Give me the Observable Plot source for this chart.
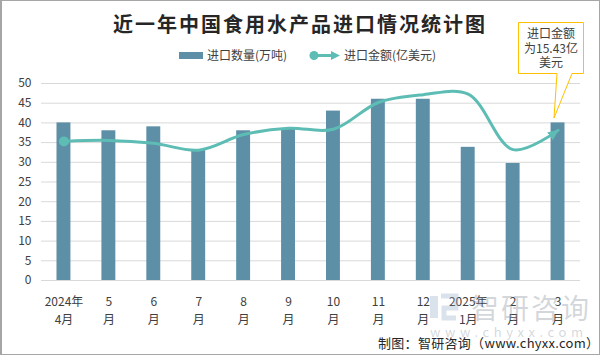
<!DOCTYPE html>
<html><head><meta charset="utf-8">
<script src="https://cdn.jsdelivr.net/npm/d3@7"></script>
<script src="https://cdn.jsdelivr.net/npm/@observablehq/plot@0.6"></script>
<style>
body{margin:0;background:#fff;}
#wrap{position:relative;width:600px;height:356px;overflow:hidden;background:#fff;font-family:"Noto Sans CJK SC","Microsoft YaHei",sans-serif;color:#404040;}
#chart{position:absolute;left:0;top:0;}
.abs{position:absolute;white-space:nowrap;}
#title{left:0;width:600px;top:9px;text-align:center;font-size:20px;font-weight:bold;color:#262626;letter-spacing:2px;font-family:"Noto Sans CJK SC",serif;}
.leg{font-size:12px;line-height:14px;top:48px;color:#404040;}
#caption{left:378px;top:333px;font-size:13px;color:#262626;letter-spacing:0.3px;}
#wm1{left:471px;top:287px;font-size:28px;color:rgba(140,150,160,0.38);letter-spacing:2px;}
#wm2{left:430px;top:322px;font-size:13px;color:rgba(150,160,170,0.42);letter-spacing:4.6px;}
#frame{position:absolute;left:0;top:0;width:597px;height:353px;border:1px solid #a6a6a6;border-left-width:2px;pointer-events:none;}
</style>
</head><body>
<div id="wrap">
  <div id="chart"></div>
  <div id="wm1" class="abs">智研咨询</div>
  <div id="wm2" class="abs">www.chyxx.com</div>
  <div id="title" class="abs">近一年中国食用水产品进口情况统计图</div>
  <svg class="abs" style="left:0;top:0" width="600" height="356" id="overlay">
    <rect x="179" y="52" width="24" height="7" fill="#5d8fa7"/>
    <line x1="314" y1="55.5" x2="333" y2="55.5" stroke="#5dbdb4" stroke-width="3"/>
    <circle cx="314" cy="55.5" r="4.5" fill="#5dbdb4"/>
    <path d="M331,51 L340,55.5 L331,60 Z" fill="#5dbdb4"/>
    <rect x="430" y="296" width="8" height="22" fill="rgba(150,175,200,0.35)"/>
    <path d="M441,296 H456 V308 H444 V318 H456" fill="none" stroke="rgba(150,175,200,0.35)" stroke-width="5"/>
    <path d="M518.5,22.5 H583.5 V73.5 H572 L554,118 L557,73.5 H518.5 Z" fill="#fff" stroke="#ffc000" stroke-width="1"/>
  </svg>
  <div class="abs leg" style="left:207px;">进口数量(万吨)</div>
  <div class="abs leg" style="left:344px;">进口金额(亿美元)</div>
  <div class="abs" id="callout" style="left:518px;top:26px;width:66px;text-align:center;font-size:12px;line-height:14.5px;color:#404040;">进口金额<br>为15.43亿<br>美元</div>
  <div id="caption" class="abs">制图：智研咨询（www.chyxx.com）</div>
  <div id="frame"></div>
</div>
<script>
// Categories (x axis tick labels)
const months = ["2024年\n4月","5\n月","6\n月","7\n月","8\n月","9\n月","10\n月","11\n月","12\n月","2025年\n1月","2\n月","3\n月"];
// 进口数量 (万吨)
const quantity = [40, 38, 39, 33, 38, 38.5, 43, 46, 46, 33.8, 29.7, 40];
// 进口金额 (亿美元) — plotted on a hidden secondary axis
const amount = [14.3, 14.4, 14.1, 13.4, 15.0, 15.65, 15.55, 18.3, 19.1, 19.15, 13.45, 15.43];
// Left axis ticks
const yTicks = [0, 5, 10, 15, 20, 25, 30, 35, 40, 45, 50];
const leftAxisMax = 50;
const amountAxisMax = 20.25;

const data = months.map((m, i) => ({month: m, quantity: quantity[i], amount: amount[i]}));
const lineColor = "#5dbdb4";

const chart = Plot.plot({
  width: 600, height: 356,
  marginTop: 83, marginBottom: 76, marginLeft: 41, marginRight: 20,
  style: {fontFamily: '"Noto Sans CJK SC","Microsoft YaHei",sans-serif', fontSize: "12px", color: "#404040", background: "transparent"},
  x: {domain: months, paddingInner: 0.69, paddingOuter: 0.345, round: false, label: null},
  y: {domain: [0, leftAxisMax], label: null},
  marks: [
    Plot.gridY({ticks: yTicks, stroke: "#d9d9d9", strokeOpacity: 1}),
    Plot.ruleY([0], {stroke: "#d9d9d9"}),
    Plot.axisY({ticks: yTicks, tickSize: 0, tickPadding: 10, label: null, fontSize: 12, fill: "#404040"}),
    Plot.axisX({tickSize: 0, tickPadding: 12, label: null, lineHeight: 1.55, fontSize: 12, fill: "#404040"}),
    Plot.barY(data, {x: "month", y: "quantity", fill: "#5d8fa7"}),
    Plot.line(data, {x: "month", y: d => d.amount * leftAxisMax / amountAxisMax, stroke: lineColor, strokeWidth: 3, curve: "catmull-rom", markerStart: "dot", markerEnd: "arrow"})
  ]
});
// filled arrowhead instead of the open chevron
d3.select(chart).selectAll("marker").each(function() {
  const m = d3.select(this);
  if (!m.select("path").empty()) {
    m.attr("fill", lineColor).attr("stroke", "none");
    m.select("path").attr("d", "M-5,-2.4L0.5,0L-5,2.4Z");
  }
});
document.getElementById("chart").appendChild(chart);
</script>
</body></html>
